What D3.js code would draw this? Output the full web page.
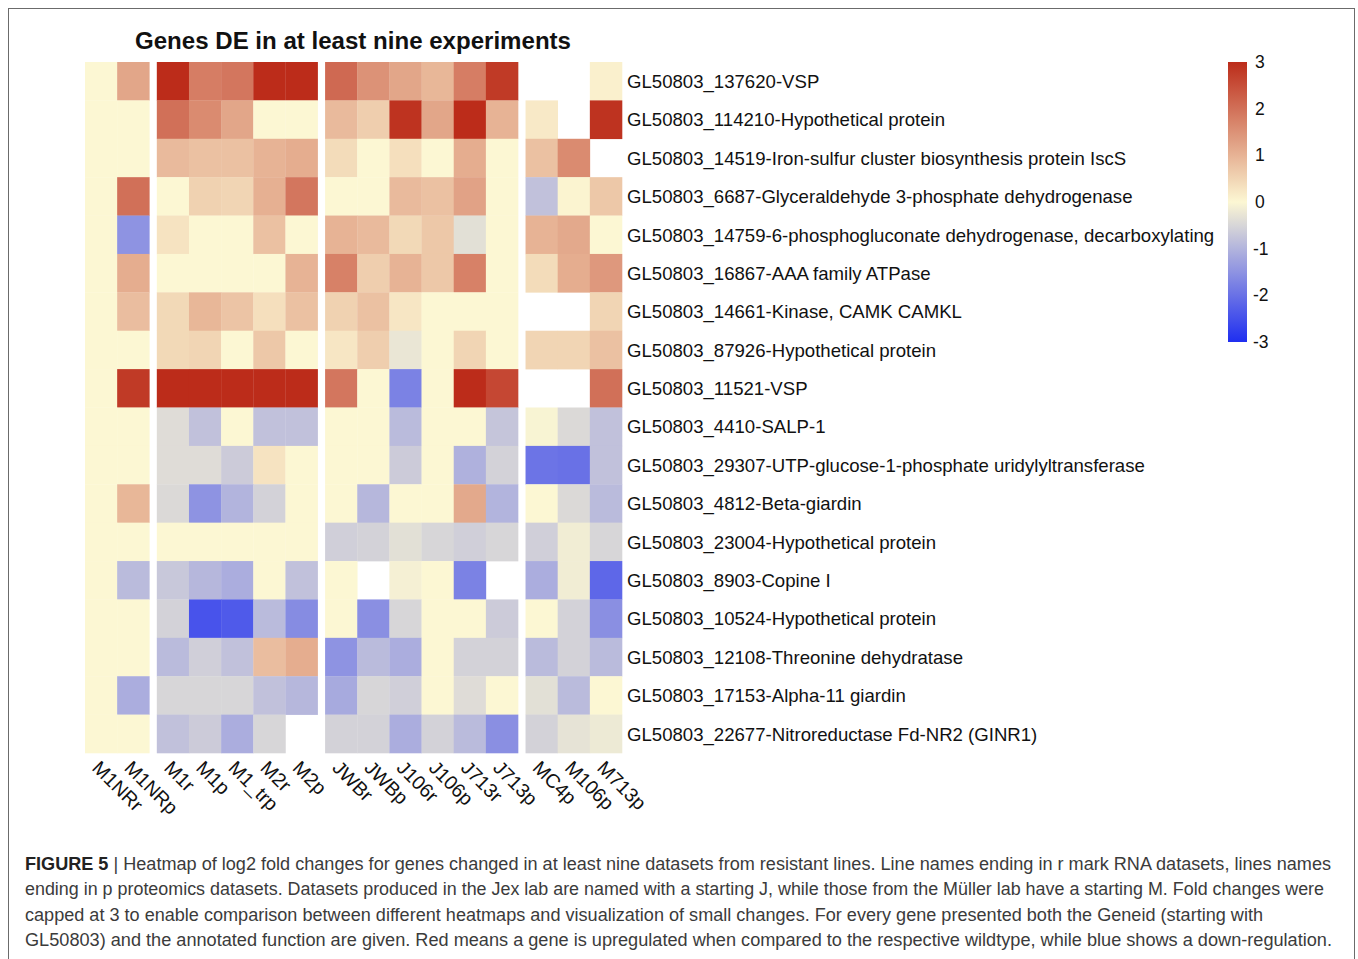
<!DOCTYPE html>
<html>
<head>
<meta charset="utf-8">
<script src="https://cdn.jsdelivr.net/npm/d3@7"></script>
<style>
  body { margin: 0; background: #fff; }
  text { font-family: "Liberation Sans", Arial, Helvetica, sans-serif; }
</style>
</head>
<body>
<script>

//genes (rows) and datasets (columns)
var genes = [
    "GL50803_137620-VSP",
    "GL50803_114210-Hypothetical protein",
    "GL50803_14519-Iron-sulfur cluster biosynthesis protein IscS",
    "GL50803_6687-Glyceraldehyde 3-phosphate dehydrogenase",
    "GL50803_14759-6-phosphogluconate dehydrogenase, decarboxylating",
    "GL50803_16867-AAA family ATPase",
    "GL50803_14661-Kinase, CAMK CAMKL",
    "GL50803_87926-Hypothetical protein",
    "GL50803_11521-VSP",
    "GL50803_4410-SALP-1",
    "GL50803_29307-UTP-glucose-1-phosphate uridylyltransferase",
    "GL50803_4812-Beta-giardin",
    "GL50803_23004-Hypothetical protein",
    "GL50803_8903-Copine I",
    "GL50803_10524-Hypothetical protein",
    "GL50803_12108-Threonine dehydratase",
    "GL50803_17153-Alpha-11 giardin",
    "GL50803_22677-Nitroreductase Fd-NR2 (GINR1)"
];
var samples = ["M1NRr", "M1NRp", "M1r", "M1p", "M1_trp", "M2r", "M2p",
               "JWBr", "JWBp", "J106r", "J106p", "J713r", "J713p",
               "MC4p", "M106p", "M713p"];
//which block each dataset sits in (blocks are split by a gap)
var sampleBlock = [0, 0, 1, 1, 1, 1, 1, 2, 2, 2, 2, 2, 2, 3, 3, 3];

//log2 fold changes, one row per gene, null = not measured
var values = [
    [0, 1.2, 3, 1.8, 1.9, 3, 3, 2.1, 1.5, 1.2, 0.95, 1.8, 2.8, null, null, 0.1],
    [0, 0, 2.0, 1.6, 1.2, 0, 0, 0.9, 0.6, 2.9, 1.2, 3, 1.0, 0.2, null, 2.9],
    [0, 0, 0.9, 0.8, 0.8, 1.0, 1.1, 0.4, 0, 0.35, 0, 1.1, 0, 0.8, 1.6, null],
    [0, 2.0, 0, 0.55, 0.5, 1.05, 1.9, 0, 0, 0.9, 0.8, 1.25, 0, -0.8, 0.05, 0.7],
    [0, -1.5, 0.3, 0, 0, 0.8, 0, 1.0, 0.9, 0.45, 0.7, -0.35, 0, 1.0, 1.15, 0],
    [0, 1.1, 0, 0, 0, 0, 1.0, 1.75, 0.6, 1.0, 0.7, 1.75, 0, 0.4, 1.1, 1.4],
    [0, 0.85, 0.45, 0.95, 0.75, 0.35, 0.8, 0.55, 0.8, 0.25, 0, 0, 0, null, null, 0.5],
    [0, 0, 0.45, 0.5, 0, 0.7, 0, 0.25, 0.6, -0.25, 0, 0.5, 0, 0.5, 0.5, 0.8],
    [0, 2.8, 3, 3, 3, 3, 3, 1.9, 0, -1.75, 0, 3, 2.6, null, null, 2.0],
    [0, 0, -0.4, -0.8, 0, -0.8, -0.8, 0, 0, -0.9, 0, 0, -0.75, -0.05, -0.45, -0.8],
    [0, 0, -0.4, -0.4, -0.65, 0.3, 0, 0, 0, -0.65, 0, -1.05, -0.55, -1.95, -2.0, -0.8],
    [0, 0.95, -0.45, -1.5, -1.0, -0.55, 0, 0, -0.95, 0, 0, 1.15, -1.0, 0, -0.45, -0.9],
    [0, 0, 0, 0, 0, 0, 0, -0.6, -0.55, -0.35, -0.5, -0.6, -0.5, -0.6, -0.15, -0.5],
    [0, -0.9, -0.7, -0.95, -1.1, 0, -0.8, 0, null, -0.1, 0, -1.75, null, -1.1, -0.15, -2.15],
    [0, 0, -0.55, -2.45, -2.35, -0.9, -1.6, 0, -1.55, -0.5, 0, 0, -0.65, 0, -0.55, -1.55],
    [0, 0, -0.9, -0.6, -0.8, 0.85, 1.1, -1.5, -0.9, -1.1, 0, -0.55, -0.55, -0.9, -0.55, -0.9],
    [0, -1.1, -0.5, -0.5, -0.5, -0.8, -0.95, -1.15, -0.5, -0.6, 0, -0.4, 0, -0.35, -0.9, 0],
    [0, 0, -0.8, -0.65, -1.1, -0.5, null, -0.55, -0.55, -1.1, -0.55, -0.9, -1.55, -0.55, -0.3, -0.2]
];

//legend ticks
var legendTicks = [3, 2, 1, 0, -1, -2, -3];

//caption text, one entry per printed line
var captionLines = [
    "Heatmap of log2 fold changes for genes changed in at least nine datasets from resistant lines. Line names ending in r mark RNA datasets, lines names",
    "ending in p proteomics datasets. Datasets produced in the Jex lab are named with a starting J, while those from the M\u00fcller lab have a starting M. Fold changes were",
    "capped at 3 to enable comparison between different heatmaps and visualization of small changes. For every gene presented both the Geneid (starting with",
    "GL50803) and the annotated function are given. Red means a gene is upregulated when compared to the respective wildtype, while blue shows a down-regulation."
];
var captionWidths = [1306, 1299, 1238, 1307];

//page size
var width = 1358,
    height = 959;

//heatmap area
var hm = {left: 85, right: 622, top: 62, bottom: 753, gap: 7.5},
    nBlocks = 4;

//column scale (without gaps), gaps are added per block
var x = d3.scaleBand()
    .domain(samples)
    .range([hm.left, hm.right - hm.gap * (nBlocks - 1)]);
function colX(s, i) { return x(s) + sampleBlock[i] * hm.gap; }

//row scale
var y = d3.scaleBand()
    .domain(genes)
    .range([hm.top, hm.bottom]);

//diverging colour scale
var color = d3.scaleLinear()
    .domain([-3, 0, 3])
    .range(["#1f2ef0", "#fcf7d3", "#bc2c1a"]);

var svg = d3.select("body").append("svg")
    .attr("width", width)
    .attr("height", height);

//figure frame (bottom edge runs off the page)
svg.append("rect")
    .attr("x", 8.5)
    .attr("y", 8.5)
    .attr("width", 1346)
    .attr("height", 1000)
    .attr("fill", "none")
    .attr("stroke", "#6b6b6b")
    .attr("stroke-width", 1);

//title
svg.append("text")
    .attr("x", 135)
    .attr("y", 49)
    .attr("textLength", 436)
    .attr("lengthAdjust", "spacingAndGlyphs")
    .style("font-size", "23px")
    .style("font-weight", "bold")
    .attr("fill", "#111")
    .text("Genes DE in at least nine experiments");

//flatten matrix into cells
var cells = [];
values.forEach(function(row, r) {
    row.forEach(function(v, c) {
        cells.push({gene: genes[r], sample: samples[c], col: c, value: v});
    });
});

//draw cells
svg.append("g").selectAll("rect")
    .data(cells.filter(function(d) { return d.value !== null; }))
    .enter().append("rect")
    .attr("x", function(d) { return colX(d.sample, d.col); })
    .attr("y", function(d) { return y(d.gene); })
    .attr("width", x.bandwidth() + 0.3)
    .attr("height", y.bandwidth() + 0.3)
    .attr("fill", function(d) { return color(d.value); });

//row labels
svg.append("g").selectAll("text")
    .data(genes)
    .enter().append("text")
    .attr("x", 627)
    .attr("y", function(d) { return y(d) + y.bandwidth() / 2 + 6.8; })
    .style("font-size", "18.6px")
    .attr("fill", "#111")
    .text(function(d) { return d; });

//column labels, rotated 45 degrees
svg.append("g").selectAll("text")
    .data(samples)
    .enter().append("text")
    .attr("transform", function(d, i) {
        var cx = colX(d, i) + x.bandwidth() / 2;
        return "translate(" + (cx - 10) + "," + 769 + ") rotate(45)";
    })
    .style("font-size", "19.5px")
    .attr("fill", "#111")
    .text(function(d) { return d; });

//legend gradient
var ly = d3.scaleLinear().domain([3, -3]).range([62, 342]);
var grad = svg.append("defs").append("linearGradient")
    .attr("id", "legendGrad")
    .attr("x1", 0).attr("y1", 0)
    .attr("x2", 0).attr("y2", 1);
d3.range(3, -3.01, -0.25).forEach(function(v) {
    grad.append("stop")
        .attr("offset", (3 - v) / 6)
        .attr("stop-color", color(v));
});
svg.append("rect")
    .attr("x", 1228)
    .attr("y", ly(3))
    .attr("width", 19)
    .attr("height", ly(-3) - ly(3))
    .attr("fill", "url(#legendGrad)");
svg.append("g").selectAll("text")
    .data(legendTicks)
    .enter().append("text")
    .attr("x", function(d) { return d < 0 ? 1253 : 1255; })
    .attr("y", function(d) { return ly(d) + 6; })
    .style("font-size", "17.5px")
    .attr("fill", "#111")
    .text(function(d) { return d; });

//caption
var caption = svg.append("g");
captionLines.forEach(function(line, i) {
    var t = caption.append("text")
        .attr("x", 25)
        .attr("y", 870 + i * 25.3)
        .attr("textLength", captionWidths[i])
        .attr("lengthAdjust", "spacingAndGlyphs")
        .style("font-size", "17.5px")
        .attr("fill", "#3b3b3b");
    if (i === 0) {
        t.append("tspan")
            .style("font-weight", "bold")
            .attr("fill", "#222")
            .text("FIGURE 5 ");
        t.append("tspan").text("| ");
    }
    t.append("tspan").text(line);
});

</script>
</body>
</html>
